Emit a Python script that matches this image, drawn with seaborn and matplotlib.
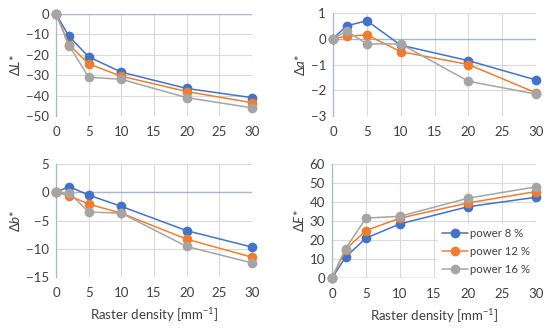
import matplotlib
matplotlib.use("Agg")
import matplotlib.pyplot as plt
import seaborn as sns
import pandas as pd
import numpy as np

density = [0, 2, 5, 10, 20, 30]
powers = ["power 8 %", "power 12 %", "power 16 %"]

dL_8 = [0, -11, -21, -28.5, -36.5, -41]
dL_12 = [0, -15, -24.5, -30.5, -38, -43.5]
dL_16 = [0, -15.5, -31, -32, -41, -46]

da_8 = [0, 0.5, 0.7, -0.25, -0.85, -1.6]
da_12 = [0, 0.1, 0.15, -0.5, -1.0, -2.1]
da_16 = [0, 0.3, -0.2, -0.2, -1.65, -2.15]

db_8 = [0, 1.0, -0.5, -2.5, -6.8, -9.7]
db_12 = [0, -0.6, -2.1, -3.7, -8.3, -11.5]
db_16 = [0, -0.1, -3.5, -3.7, -9.6, -12.5]

dE_8 = [0, 11, 21, 28.5, 37.5, 42.5]
dE_12 = [0, 15, 25, 31.5, 39.5, 45.5]
dE_16 = [0, 15.5, 31.5, 32.5, 42, 48]

ylabels = ["L", "a", "b", "E"]
xlabel = "Raster density [mm$^{-1}$]"

sns.set_style("white")
plt.rcParams["font.family"] = ["Lato", "DejaVu Sans"]
plt.rcParams["mathtext.fontset"] = "custom"
plt.rcParams["mathtext.it"] = "Lato:italic"
plt.rcParams["mathtext.rm"] = "Lato"

colors = ["#4472C4", "#ED7D31", "#A5A5A5"]
palette = dict(zip(powers, colors))

def frame(s8, s12, s16):
    rows = []
    for p, s in zip(powers, [s8, s12, s16]):
        for x, y in zip(density, s):
            rows.append({"density": x, "value": y, "power": p})
    return pd.DataFrame(rows)

panels = [
    (frame(dL_8, dL_12, dL_16), (-50, 0), 10, [56/550, 1-116/328, 196/550, 102/328]),
    (frame(da_8, da_12, da_16), (-3, 1), 1, [333/550, 1-116/328, 203/550, 103/328]),
    (frame(db_8, db_12, db_16), (-15, 5), 5, [56/550, 1-277/328, 196/550, 113/328]),
    (frame(dE_8, dE_12, dE_16), (0, 60), 10, [332/550, 1-278/328, 204/550, 114/328]),
]

fig = plt.figure(figsize=(5.5, 3.28), dpi=100)
fig.patch.set_facecolor("white")
grid_c = "#D9D9D9"
axis_c = "#A6B8CF"
text_c = "#404040"
fs = 9.5

for i, (df, ylim, step, pos) in enumerate(panels):
    ax = fig.add_axes(pos)
    sns.lineplot(data=df, x="density", y="value", hue="power", palette=palette,
                 marker="o", markersize=7, markeredgewidth=0, linewidth=1.1,
                 ax=ax, legend=(i == 3), zorder=3, clip_on=False)
    ax.set_xlim(0, 30)
    ax.set_ylim(*ylim)
    ax.set_xticks(range(0, 31, 5))
    ax.set_yticks(np.arange(ylim[0], ylim[1] + step / 2, step))
    ax.grid(True, color=grid_c, linewidth=0.8, zorder=0)
    ax.set_axisbelow(True)
    for s in ["top", "right", "bottom"]:
        ax.spines[s].set_visible(False)
    ax.spines["left"].set_color(axis_c)
    ax.spines["left"].set_linewidth(0.9)
    ax.axhline(0, color=axis_c, linewidth=1.0, zorder=1)
    ax.tick_params(axis="y", length=0, labelsize=fs, colors=text_c, pad=5)
    ax.tick_params(axis="x", length=0, labelsize=fs, colors=text_c, pad=7)
    ax.set_ylabel("Δ$\\mathit{" + ylabels[i] + "}$*", fontsize=fs, color=text_c, labelpad=3)
    ax.set_xlabel(xlabel if i >= 2 else "", fontsize=fs, color=text_c, labelpad=5)
    if i == 3:
        lfs = 8.2
        leg = ax.legend(loc="center left", bbox_to_anchor=(0.52, 0.235), frameon=True,
                        fontsize=lfs, handlelength=2.3, labelspacing=0.62,
                        borderpad=0.35, handletextpad=0.15, borderaxespad=0)
        leg.get_frame().set_facecolor("white")
        leg.get_frame().set_edgecolor("white")
        leg.get_frame().set_alpha(1)
        leg.get_frame().set_boxstyle("square", pad=0)
        leg.set_zorder(5)
        for t in leg.get_texts():
            t.set_color(text_c)

fig.savefig("out.png", dpi=100, facecolor="white")
